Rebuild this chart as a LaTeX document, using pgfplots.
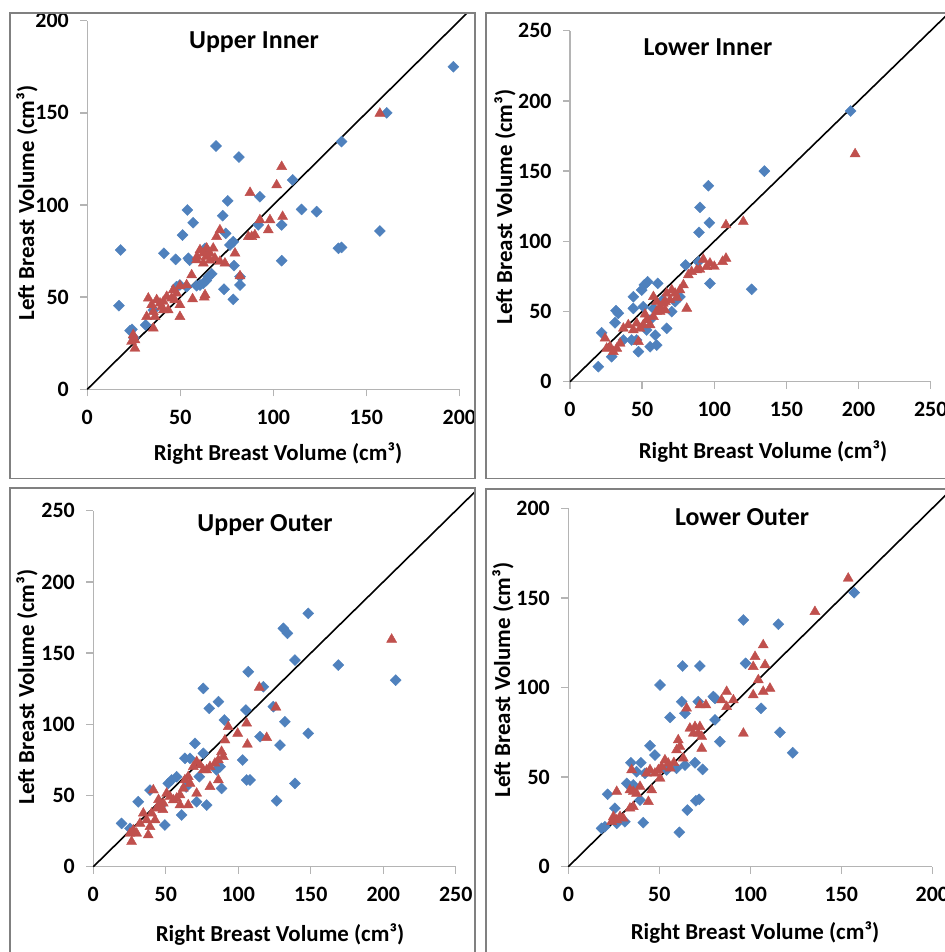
\documentclass[border=0pt]{standalone}
\usepackage{fontspec}
\setmainfont{Carlito}
\usepackage{pgfplots}
\pgfplotsset{compat=1.18}
\definecolor{ublue}{HTML}{4F81BD}
\definecolor{ured}{HTML}{C0504D}
\definecolor{axgray}{HTML}{B4B4B4}
\definecolor{framegray}{HTML}{808080}

\pgfplotsset{
  panel/.style={
    scale only axis, anchor=south west,
    axis lines=left, axis line style={-, axgray, line width=1.4bp},
    every tick/.style={axgray, line width=1.4bp}, tick align=outside, major tick length=7bp,
    /pgf/number format/assume math mode=true,
    tick label style={font=\fontsize{22}{24}\selectfont\bfseries, black},
    xticklabel style={yshift=-10bp}, yticklabel style={xshift=-8bp},
    xmin=0, ymin=0, clip=false,
  },
  blu/.style={only marks, mark=square*, mark size=3.9bp, mark options={rotate=45, draw=ublue, fill=ublue}},
  rd/.style={only marks, mark=triangle*, mark size=5.8bp, mark options={draw=ured, fill=ured}},
  diag/.style={black, line width=1.6bp},
}
\tikzset{
  ttl/.style={font=\fontsize{26}{28}\selectfont\bfseries},
  lbl/.style={font=\fontsize{23}{26}\selectfont\bfseries},
  frm/.style={framegray, line width=1.6bp},
}

\begin{document}
\begin{tikzpicture}
\useasboundingbox (0,0) rectangle (945bp,-952bp);

% Upper Inner
\begin{scope}
\clip (10bp,-12.7bp) rectangle (475bp,-478.3bp);
\begin{axis}[panel, at={(87.3bp,-389.3bp)}, width=372bp, height=368.6bp,
  xmax=200, ymax=200, xtick={0,50,...,200}, ytick={0,50,...,200}]
\addplot[blu] coordinates {(196.8,175) (161,150) (136.7,134.4) (157.3,85.9) (135,76.5) (136.7,77) (123.3,96.4) (115.2,97.6) (110.4,113.6) (104.5,89.2) (104.5,69.8) (92.8,104.5) (91.9,89.2) (81.5,126) (69.2,132) (75.5,102.2) (72.8,94.2) (74.4,84.6) (78.5,80.1) (76.7,78.3) (78.9,67.1) (82.1,61.1) (82.1,56.6) (73.5,54.3) (78.5,48.8) (53.8,97.3) (56.9,90.4) (51.2,83.7) (54.3,71.1) (55,70) (47.5,70.5) (41.2,73.8) (17.9,75.6) (17,45.4) (23,31.8) (24,32.5) (31.4,34.9) (35.5,43) (48,55.7) (49.8,56.6) (58.8,56.2) (62.4,57.5) (65,61) (66.9,62.6) (63.3,76.5) (53.4,55.7) (60.6,56.6) (64,59) (25,28)};
\addplot[rd] coordinates {(157.3,149.7) (104.5,120.8) (101.8,110.8) (87.5,106.7) (105,93.7) (92.8,91.9) (98.2,91.9) (97.3,86.4) (86.6,82.8) (88.4,82.8) (90.1,83.7) (71.3,86.4) (69.5,82.8) (79.4,73.8) (82.1,61.5) (60.6,75.6) (62.4,73.8) (64.2,76.5) (65.9,73.8) (67.7,76.5) (68.6,71.1) (71.3,69.3) (58.8,70.2) (62.4,68.4) (74,68.4) (56.1,62) (53.4,56.6) (49.8,56.1) (63.3,51.2) (56.6,49) (46.2,53.9) (48,52.1) (45.3,49.4) (47,48.5) (49.8,45.8) (49.8,39.4) (42.7,50.3) (40.9,47.6) (39.1,46.7) (37.3,48.5) (32.8,49.4) (34.6,45.8) (35.5,42.1) (36.4,39.4) (35.5,33.1) (31.9,39.4) (24.7,29.5) (25.6,26.8) (25.6,22.2) (23.8,25.9) (43.5,43) (40,44.8) (40.9,43) (66,70) (64,72) (59,72) (62.9,49.9)};
\addplot[diag] coordinates {(0,0) (260,260)};
\end{axis}
\end{scope}
\draw[frm] (10bp,-12.7bp) rectangle (475bp,-478.3bp);

% Lower Inner
\begin{scope}
\clip (486bp,-12.7bp) rectangle (960bp,-478.3bp);
\begin{axis}[panel, at={(570bp,-381.7bp)}, width=360.7bp, height=351bp,
  xmax=250, ymax=250, xtick={0,50,...,250}, ytick={0,50,...,250}]
\addplot[blu] coordinates {(194.5,192.8) (134.7,150) (95.9,139.6) (90.1,124.2) (89.4,106.4) (96.6,113.2) (89,85.5) (97,70) (80.2,83.1) (125.9,65.8) (53.8,71.2) (51.5,68.9) (49.7,65.3) (60.8,70) (43.9,60.5) (43.9,52.2) (31.9,50.6) (33.5,48.7) (31.2,42) (21.9,34.9) (19.6,10.7) (28.9,17.8) (37,29.7) (42.7,29.7) (46.2,29.7) (47.4,21.4) (55.5,24.9) (60.1,26.1) (59.1,33.2) (67,38) (53.1,36.8) (55.5,43.9) (57.8,52.2) (70.5,49.9) (50.8,53.4) (72.8,57) (76.2,60.5) (64.2,58.2)};
\addplot[rd] coordinates {(197.6,162.2) (120.1,114) (108.1,111.6) (108.1,87.8) (105.7,85.5) (97,84.3) (94.7,81.9) (92.4,87.1) (87.8,79.5) (84.3,78.3) (82,76) (78.6,68.9) (76.2,65.3) (80.9,52.2) (67,62.9) (70.5,65.3) (72.8,62.9) (69.3,58.2) (64.7,55.8) (62.4,53.4) (60.1,57) (57.8,60.5) (65.9,51) (62.4,49.9) (57.8,46.3) (53.1,43.9) (50.8,40.4) (48.5,38) (46.2,41.6) (43.9,36.8) (40.4,40.4) (37,38) (47.4,28.5) (34.7,27.3) (32.4,23.7) (30,21.4) (27.7,24.9) (25.4,23.7) (24.3,30.9) (55.5,40.4) (74,60) (66,57) (60,50) (52,48) (90,80) (100,82)};
\addplot[diag] coordinates {(0,0) (300,300)};
\end{axis}
\end{scope}
\draw[frm] (486bp,-12.7bp) rectangle (960bp,-478.3bp);

% Upper Outer
\begin{scope}
\clip (10bp,-488bp) rectangle (475bp,-970bp);
\begin{axis}[panel, at={(93.3bp,-866.7bp)}, width=362.4bp, height=356bp,
  xmax=250, ymax=250, xtick={0,50,...,250}, ytick={0,50,...,250}]
\addplot[blu] coordinates {(208.6,131) (169,141.6) (148.3,177.9) (131.1,167.4) (133.9,163.9) (139.1,145.1) (148.3,93.6) (132.2,101.8) (128.8,85.4) (139.1,58.5) (126.5,46.3) (124.2,112.4) (117.3,126.4) (115,91.3) (106.9,136.9) (105.3,110) (103,74.9) (105.8,60.9) (108.1,60.9) (90.4,103) (86.3,115.9) (80,111.2) (75.9,125.2) (75.9,79.6) (70.1,86.6) (78.2,43.3) (71.3,45.6) (88.5,55) (63.2,76.1) (66.7,76.1) (73.1,63.2) (60.9,36.3) (57.5,63.2) (54,60.9) (51.7,58.5) (49.4,29.3) (31,45.6) (19.5,30.4) (25.3,26.9) (39.1,53.8) (46,42.1) (87.4,70.2) (64,56) (85,68)};
\addplot[rd] coordinates {(205.8,159.6) (114.5,125.9) (126,111.9) (119.6,90.6) (105.8,100.7) (106.3,85.9) (99.6,93.6) (93.1,98.3) (90.8,88.9) (88.5,80.8) (89.7,77.2) (86.3,74.9) (83.9,72.6) (80.5,70.2) (78.2,67.9) (75.9,67.9) (80.5,56.2) (86.3,60.9) (71.3,73.7) (73.6,71.4) (69,70.2) (71.3,51.5) (65.5,63.2) (63.2,60.9) (66.7,58.5) (62.1,55) (65.5,43.3) (59.8,43.3) (55.2,46.8) (52.9,49.2) (50.6,51.5) (48.3,44.5) (46,43.3) (43.7,41) (41.4,53.8) (40.2,37.5) (42.6,32.8) (39.1,28.1) (36.8,32.8) (34.5,37.5) (32.2,30.4) (27.6,25.7) (26.4,17.6) (29.9,23.4) (25.3,23.4) (37.9,22.2) (57.5,48) (59.8,50.3) (45,47) (48,40)};
\addplot[diag] coordinates {(0,0) (300,300)};
\end{axis}
\end{scope}
\draw[frm] (10bp,-488bp) rectangle (475bp,-970bp);

% Lower Outer
\begin{scope}
\clip (486bp,-489bp) rectangle (960bp,-970bp);
\begin{axis}[panel, at={(568.3bp,-866.7bp)}, width=364bp, height=358.4bp,
  xmax=200, ymax=200, xtick={0,50,...,200}, ytick={0,50,...,200}]
\addplot[blu] coordinates {(157.1,152.9) (96.2,137.7) (115.4,135.3) (62.8,112) (72.3,112) (50.4,101.4) (97.4,113.5) (105.9,88.4) (116.3,75) (123.3,63.6) (83.3,69.8) (80.6,81.9) (79.7,94.9) (80.6,94) (71.4,92.1) (62.3,92.1) (64.1,85.6) (55.9,83.3) (44.9,67.5) (47.6,62.3) (39.9,58) (34.4,58) (42.1,52.1) (32.1,46.5) (35.7,45.6) (21.6,40.4) (25.6,32.6) (18.3,21.4) (20.1,22.3) (26.6,24.2) (31.1,25.1) (41.2,24.6) (61,19.2) (65.4,31.6) (70.1,36.8) (71.9,37.6) (73.8,54.3) (69.6,58) (64.1,56.7) (59.5,54.9) (54,54) (39.4,37.2) (37.5,53)};
\addplot[rd] coordinates {(153.8,160.9) (135.5,142.3) (107.1,123.7) (102.6,117.2) (101.6,111.6) (108.1,112.6) (104.4,104.2) (110.8,99.5) (107.1,97.7) (101.6,95.8) (96.2,74.4) (90.7,93) (87,89.3) (84.2,93) (87,97.7) (75.6,90.2) (72.3,90.2) (65,88.4) (66.8,77.2) (69.6,78.1) (71.4,74.4) (73.3,72.6) (72.3,78.1) (68.7,74.4) (73.3,66) (60.4,70.7) (61.3,67) (59.5,65.1) (63.2,60.5) (54.9,57.7) (53.1,59.5) (51.3,55.8) (49.5,54) (47.6,52.1) (50.4,49.3) (43,52.1) (44.9,54) (34.8,54) (33.9,42.8) (35.7,41.9) (37.5,40.9) (39.4,44.7) (45.8,42.8) (44,36.3) (35.7,33.5) (33.9,32.6) (26.6,41.9) (24.8,27.9) (26.6,26) (28.4,27.9) (30.2,27) (23.8,25.1) (56,55) (58,58)};
\addplot[diag] coordinates {(0,0) (260,260)};
\end{axis}
\end{scope}
\draw[frm] (486bp,-489bp) rectangle (960bp,-970bp);

% titles and labels
\node[ttl] at (254bp,-42bp) {Upper Inner};
\node[ttl] at (708bp,-47bp) {Lower Inner};
\node[ttl] at (265bp,-525bp) {Upper Outer};
\node[ttl] at (742bp,-517bp) {Lower Outer};
\node[lbl] at (278bp,-454bp) {Right Breast Volume (cm³)};
\node[lbl] at (763bp,-452bp) {Right Breast Volume (cm³)};
\node[lbl] at (280bp,-935bp) {Right Breast Volume (cm³)};
\node[lbl] at (755bp,-933bp) {Right Breast Volume (cm³)};
\node[lbl, rotate=90] at (27bp,-203bp) {Left Breast Volume (cm³)};
\node[lbl, rotate=90] at (505bp,-207bp) {Left Breast Volume (cm³)};
\node[lbl, rotate=90] at (27bp,-687bp) {Left Breast Volume (cm³)};
\node[lbl, rotate=90] at (503bp,-680bp) {Left Breast Volume (cm³)};
\end{tikzpicture}
\end{document}
